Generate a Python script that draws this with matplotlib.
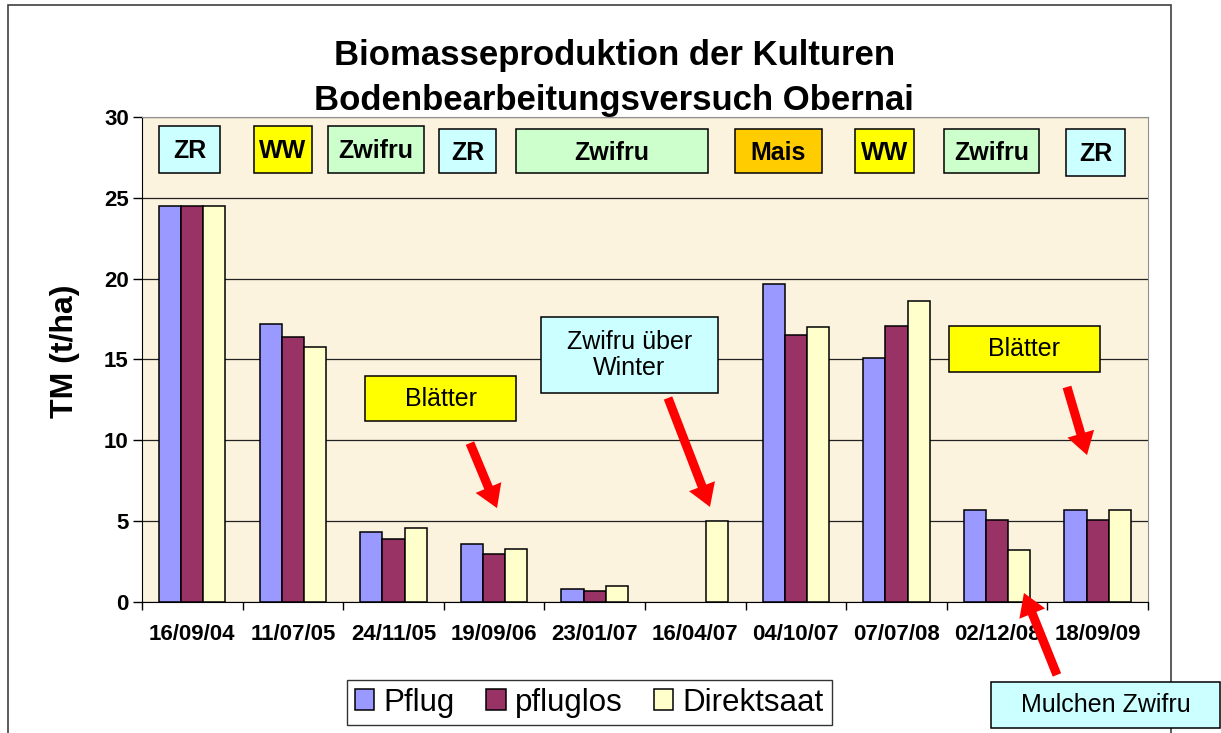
import matplotlib
matplotlib.use("Agg")
import matplotlib.pyplot as plt
from matplotlib.patches import Rectangle
import numpy as np

plt.rcParams['font.family'] = ['Liberation Sans', 'DejaVu Sans']

# Sampling dates and dry matter (t/ha) per tillage system
dates = ['16/09/04', '11/07/05', '24/11/05', '19/09/06', '23/01/07',
         '16/04/07', '04/10/07', '07/07/08', '02/12/08', '18/09/09']
pflug = [24.5, 17.2, 4.3, 3.6, 0.8, 0.0, 19.7, 15.1, 5.7, 5.7]
pfluglos = [24.5, 16.4, 3.9, 3.0, 0.7, 0.0, 16.5, 17.1, 5.1, 5.1]
direktsaat = [24.5, 15.8, 4.6, 3.3, 1.0, 5.0, 17.0, 18.6, 3.2, 5.7]

series = ['Pflug', 'pfluglos', 'Direktsaat']
colors = ['#9999FF', '#993366', '#FFFFCC']

# Crop sequence labels along the top of the plot
crops = ['ZR', 'WW', 'Zwifru', 'ZR', 'Zwifru', 'Mais', 'WW', 'Zwifru', 'ZR']
crop_colors = ['#CCFFFF', '#FFFF00', '#CCFFCC', '#CCFFFF', '#CCFFCC',
               '#FFCC00', '#FFFF00', '#CCFFCC', '#CCFFFF']
crop_x0 = [-0.331, 0.613, 1.349, 2.452, 3.218, 5.395, 6.588, 7.472, 8.685]
crop_x1 = [0.275, 1.190, 2.303, 3.019, 5.126, 6.259, 7.174, 8.416, 9.271]
crop_top = [29.44, 29.44, 29.44, 29.25, 29.25, 29.25, 29.25, 29.25, 29.25]
crop_bot = [26.53, 26.53, 26.53, 26.53, 26.53, 26.53, 26.53, 26.53, 26.35]

fig = plt.figure(figsize=(12.21, 7.33), dpi=100)
ax = fig.add_axes([0.1163, 0.1787, 0.8239, 0.6617])
ax.set_facecolor('#FCF3DF')

x = np.arange(len(dates))
w = 0.22
for i, (vals, col, name) in enumerate(zip([pflug, pfluglos, direktsaat], colors, series)):
    bars = ax.bar(x + (i - 1) * w, vals, width=w, color=col, edgecolor='black',
                  linewidth=1.1, label=name, zorder=3)
    # empty bars leave no outline on the axis
    for b, v in zip(bars, vals):
        if v == 0:
            b.set_linewidth(0)

ax.set_xlim(-0.5, len(dates) - 0.5)
ax.set_ylim(0, 30)
ax.set_yticks(range(0, 31, 5))
ax.yaxis.grid(True, color='#222222', linewidth=0.9, zorder=1)
ax.set_axisbelow(True)

ax.set_xticks(x)
ax.set_xticklabels(dates, fontsize=16, fontweight='bold')
ax.set_xticks(np.arange(-0.5, len(dates)), minor=True)
ax.tick_params(axis='x', which='major', length=0, pad=16)
ax.tick_params(axis='x', which='minor', length=6, width=1, direction='out')
ax.tick_params(axis='y', length=6.5, width=1, direction='out', pad=3)
for lab in ax.get_yticklabels():
    lab.set_fontsize(16)
    lab.set_fontweight('bold')

for s in ['top', 'right']:
    ax.spines[s].set_color('#909090')
ax.spines['left'].set_color('black')
ax.spines['bottom'].set_color('black')

ax.text(-0.0765, 0.516, 'TM (t/ha)', transform=ax.transAxes, rotation=90,
        ha='center', va='center', fontsize=23, fontweight='bold')

# crop boxes
for name, col, x0, x1, yt, yb in zip(crops, crop_colors, crop_x0, crop_x1, crop_top, crop_bot):
    ax.add_patch(Rectangle((x0, yb), x1 - x0, yt - yb, facecolor=col,
                           edgecolor='black', linewidth=1.1, zorder=4))
    ax.text((x0 + x1) / 2, (yt + yb) / 2 - 0.1, name, ha='center', va='center',
            fontsize=18, fontweight='bold', zorder=5)


def note(x0, x1, y0, y1, text, col):
    ax.add_patch(Rectangle((x0, y0), x1 - x0, y1 - y0, facecolor=col,
                           edgecolor='black', linewidth=1.1, zorder=6, clip_on=False))
    ax.text((x0 + x1) / 2, (y0 + y1) / 2, text, ha='center', va='center',
            fontsize=18, linespacing=1.15, zorder=7, clip_on=False)


def arrow(tail, tip):
    ax.annotate('', xy=tip, xytext=tail, annotation_clip=False, zorder=8,
                arrowprops=dict(arrowstyle='simple,head_length=1.6,head_width=2.0,tail_width=0.65',
                                mutation_scale=10, color='#FF0000', lw=0,
                                shrinkA=0, shrinkB=0))


note(1.717, 3.218, 11.19, 13.98, 'Blätter', '#FFFF00')
note(3.466, 5.226, 12.93, 17.63, 'Zwifru über\nWinter', '#CCFFFF')
note(7.522, 9.023, 14.22, 17.07, 'Blätter', '#FFFF00')
note(7.939, 10.216, -7.79, -4.95, 'Mulchen Zwifru', '#CCFFFF')

arrow((2.760, 9.83), (3.029, 5.81))
arrow((4.729, 12.62), (5.146, 5.88))
arrow((8.695, 13.30), (8.894, 9.09))
arrow((8.595, -4.51), (8.267, 0.56))

fig.text(0.503, 1 - 65 / 733, 'Biomasseproduktion der Kulturen', ha='center',
         va='baseline', fontsize=25, fontweight='bold')
fig.text(0.503, 1 - 110 / 733, 'Bodenbearbeitungsversuch Obernai', ha='center',
         va='baseline', fontsize=25, fontweight='bold')

leg = ax.legend(loc='center', bbox_to_anchor=(0.4828, 0.0416),
                bbox_transform=fig.transFigure, ncol=3, fontsize=22.5,
                frameon=True, fancybox=False, handlelength=0.62,
                handleheight=0.62, handletextpad=0.3, columnspacing=1.0,
                borderpad=0.25, borderaxespad=0)
leg.get_frame().set_edgecolor('black')
leg.get_frame().set_linewidth(1.0)

# outer chart frame
fig.add_artist(Rectangle((8 / 1221, -0.02), (1171 - 8) / 1221, 1 - 5 / 733 + 0.02,
                         transform=fig.transFigure, fill=False,
                         edgecolor='#404040', linewidth=1.2, zorder=0))

fig.savefig('out.png', dpi=100)
